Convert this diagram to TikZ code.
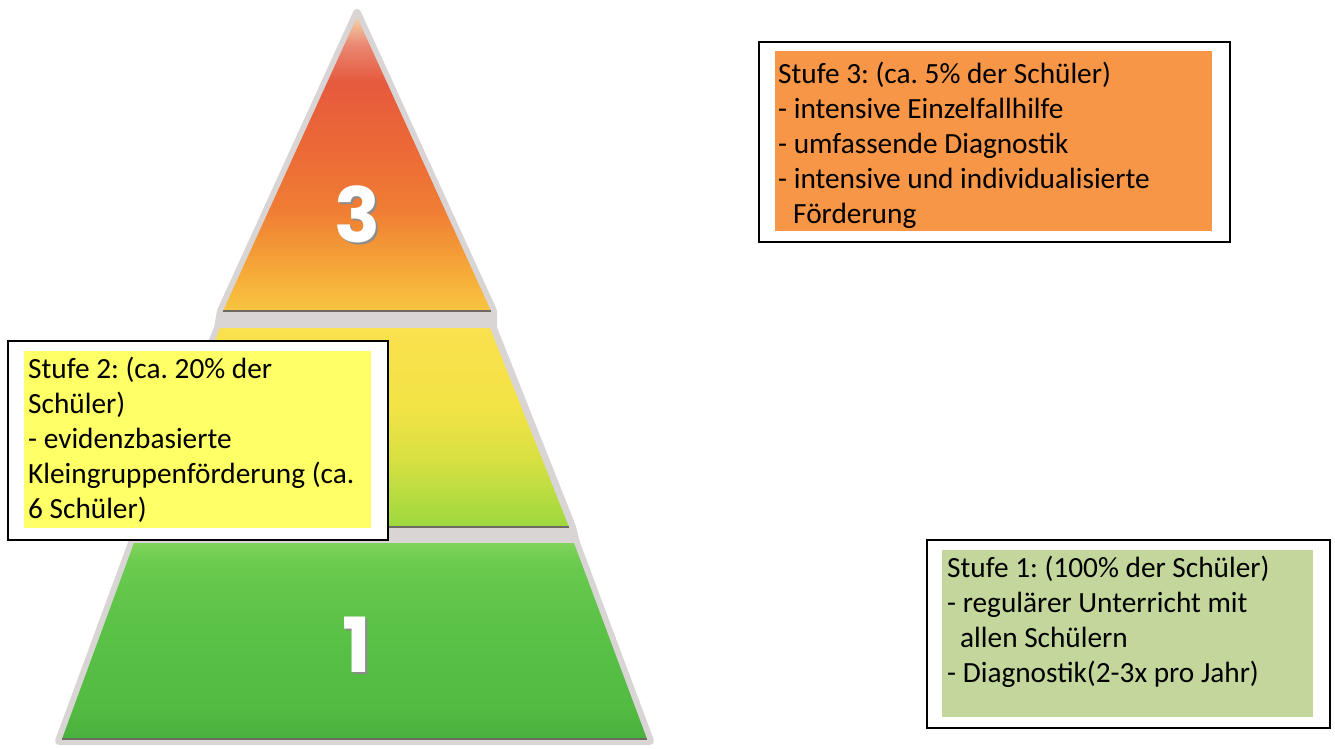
\documentclass[tikz,border=0pt]{standalone}
\usepackage{fontspec}
\setmainfont{Carlito}
\newfontfamily\numfont{Poppins}
\usetikzlibrary{calc}
\frenchspacing
\definecolor{orangebox}{HTML}{F79646}
\definecolor{yellowbox}{HTML}{FFFF66}
\definecolor{greenbox}{HTML}{C3D69B}
\definecolor{pyrgray}{HTML}{D9D5D5}
\definecolor{edgegray}{HTML}{6E6A60}
\definecolor{ta}{HTML}{F8C640}
\definecolor{tb}{HTML}{F5A838}
\definecolor{tc}{HTML}{F07E34}
\definecolor{td}{HTML}{EC6A36}
\definecolor{te}{HTML}{E65A3E}
\definecolor{tf}{HTML}{EA8470}
\definecolor{tg}{HTML}{F2D2A8}
\definecolor{wa}{HTML}{9ED840}
\definecolor{wb}{HTML}{B4DC40}
\definecolor{wc}{HTML}{D8E042}
\definecolor{wd}{HTML}{F2E346}
\definecolor{we}{HTML}{FAE14E}
\definecolor{oa}{HTML}{48B03C}
\definecolor{ob}{HTML}{52BA42}
\definecolor{oc}{HTML}{5CC248}
\definecolor{od}{HTML}{6ACB4E}
\definecolor{oe}{HTML}{80D45A}
\pgfdeclareverticalshading{segthree}{100bp}{%
  color(0bp)=(ta); color(25bp)=(ta); color(32bp)=(tb); color(42bp)=(tc);
  color(52bp)=(td); color(64bp)=(te); color(70bp)=(tf); color(75bp)=(tg);
  color(100bp)=(tg)}
\pgfdeclareverticalshading{segtwo}{100bp}{%
  color(0bp)=(wa); color(25bp)=(wa); color(32bp)=(wb); color(42bp)=(wc);
  color(55bp)=(wd); color(75bp)=(we); color(100bp)=(we)}
\pgfdeclareverticalshading{segone}{100bp}{%
  color(0bp)=(oa); color(25bp)=(oa); color(32bp)=(ob); color(55bp)=(oc);
  color(70bp)=(od); color(75bp)=(oe); color(100bp)=(oe)}
\tikzset{
  frame/.style={draw=black, line width=2pt, fill=white, inner sep=0pt, anchor=north west},
  panel/.style={inner sep=0pt, anchor=north west},
  boxtext/.style={inner sep=0pt, anchor=north west, align=left,
    font=\fontsize{29.3}{35}\selectfont},
  numshadow/.style={text=black!45, font=\numfont\bfseries\fontsize{76}{76}\selectfont, anchor=base, inner sep=0pt},
  numtext/.style={text=white, font=\numfont\bfseries\fontsize{76}{76}\selectfont, anchor=base, inner sep=0pt},
  segedge/.style={draw=edgegray, line width=1.5pt},
}
\begin{document}
\begin{tikzpicture}[x=1pt,y=-1pt]
\useasboundingbox (0,0) rectangle (1335,749);
% gray base of the pyramid
\fill[pyrgray, draw=pyrgray, line width=8pt, line join=round]
  (357,13) -- (493,311) -- (493,328) -- (572,527) -- (576,543) -- (650,741)
  -- (59,741) -- (132,543) -- (138,527) -- (218,328) -- (221,311) -- cycle;
% segments
\shade[shading=segthree] (357,17) -- (491,311) -- (223,311) -- cycle;
\draw[segedge] (223,311) -- (491,311);
\shade[shading=segtwo] (220,328) -- (490,328) -- (569,527) -- (141,527) -- cycle;
\draw[segedge] (141,527) -- (569,527);
\shade[shading=segone] (134,543) -- (574,543) -- (647,739) -- (62,739) -- cycle;
\draw[segedge] (62,739) -- (647,739);
% numbers
\node[numshadow] (n3s) at (359,244) {3};
\node[numtext] (n3) at (357,242) {3};
\node[numshadow] (n1s) at (359,674) {1};
\node[numtext] (n1) at (357,672) {1};
% box Stufe 3
\node[frame, minimum width=471pt, minimum height=200pt] (b3) at (758,41) {};
\node[panel, fill=orangebox, minimum width=437pt, minimum height=180pt] (p3) at (775,51) {};
\node[boxtext] (t3) at (778,58.5) {\strut Stufe 3: (ca. 5\% der Schüler)\\
- intensive Einzelfallhilfe\\
- umfassende Diagnostik\\
- intensive und individualisierte\\
\hspace*{15pt}Förderung};
% box Stufe 2
\node[frame, minimum width=380pt, minimum height=199pt] (b2) at (7,340) {};
\node[panel, fill=yellowbox, minimum width=347pt, minimum height=177pt] (p2) at (24,351) {};
\node[boxtext] (t2) at (28,353.5) {\strut Stufe 2: (ca. 20\% der\\
Schüler)\\
- evidenzbasierte\\
Kleingruppenförderung (ca.\\
6 Schüler)};
% box Stufe 1
\node[frame, minimum width=403pt, minimum height=188pt] (b1) at (926,539) {};
\node[panel, fill=greenbox, minimum width=371pt, minimum height=167pt] (p1) at (942,550) {};
\node[boxtext] (t1) at (947,552.5) {\strut Stufe 1: (100\% der Schüler)\\
- regulärer Unterricht mit\\
\hspace*{13pt}allen Schülern\\
- Diagnostik(2-3x pro Jahr)};
\end{tikzpicture}
\end{document}
